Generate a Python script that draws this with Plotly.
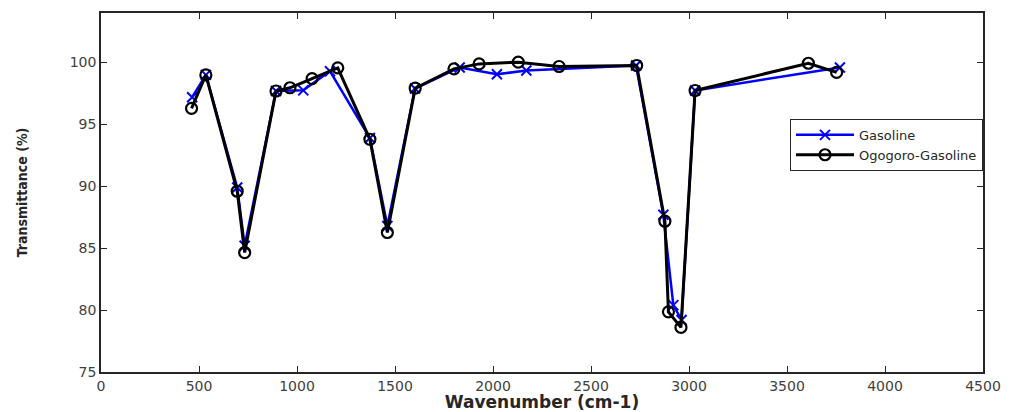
import plotly.graph_objects as go

gas_x = [465, 535, 695, 733, 893, 1032, 1168, 1372, 1461, 1602, 1830, 2020, 2170, 2730, 2869, 2920, 2962, 3031, 3770]
gas_y = [97.2, 99.0, 89.9, 85.2, 97.7, 97.75, 99.3, 93.9, 86.8, 97.9, 99.6, 99.05, 99.35, 99.76, 87.7, 80.4, 79.2, 97.74, 99.6]

ogo_x = [462, 535, 695, 733, 893, 964, 1077, 1208, 1372, 1461, 1603, 1801, 1929, 2129, 2337, 2733, 2877, 2895, 2959, 3031, 3609, 3753]
ogo_y = [96.3, 99.0, 89.6, 84.65, 97.7, 97.96, 98.7, 99.57, 93.8, 86.27, 97.93, 99.49, 99.89, 100.03, 99.68, 99.76, 87.18, 79.86, 78.6, 97.74, 99.94, 99.2]

x_ticks = [0, 500, 1000, 1500, 2000, 2500, 3000, 3500, 4000, 4500]
y_ticks = [75, 80, 85, 90, 95, 100]

fig = go.Figure()
fig.add_trace(go.Scatter(
    x=gas_x, y=gas_y, name="Gasoline", mode="lines+markers",
    line=dict(color="#0000ff", width=2.5),
    marker=dict(symbol="x-thin-open", size=10, line=dict(color="#0000ff", width=2)),
))
fig.add_trace(go.Scatter(
    x=ogo_x, y=ogo_y, name="Ogogoro-Gasoline", mode="lines+markers",
    line=dict(color="#000000", width=3),
    marker=dict(symbol="circle-open", size=11, line=dict(color="#000000", width=2.2)),
))

axis_common = dict(
    showline=True, linecolor="#262626", linewidth=1.5, mirror="ticks",
    ticks="inside", ticklen=6, tickcolor="#262626", showgrid=False, zeroline=False,
    automargin=False,
    tickfont=dict(family="DejaVu Sans", size=14, color="#404040"),
)

fig.update_layout(
    width=1013, height=412,
    margin=dict(l=101, r=30, t=13, b=40),
    paper_bgcolor="white", plot_bgcolor="white",
    showlegend=True,
    legend=dict(
        x=1.0, y=0.705, xanchor="right", yanchor="top",
        bordercolor="#262626", borderwidth=1, bgcolor="white",
        font=dict(family="DejaVu Sans", size=13, color="#262626"),
        tracegroupgap=0, itemwidth=58,
    ),
    xaxis=dict(range=[0, 4500], tickvals=x_ticks, **axis_common,
               title=dict(text="<b>Wavenumber (cm-1)</b>", standoff=6,
                          font=dict(family="DejaVu Sans", size=17, color="#262626"))),
    yaxis=dict(range=[75, 104], tickvals=y_ticks, **axis_common,
               title=dict(text="<b>Transmittance (%)</b>", standoff=39,
                          font=dict(family="DejaVu Sans Condensed, Liberation Sans", size=14, color="#262626"))),
)

fig.write_html("out.html", config={"displayModeBar": False},
               post_script="document.body.style.margin='0';document.body.style.padding='0';")
